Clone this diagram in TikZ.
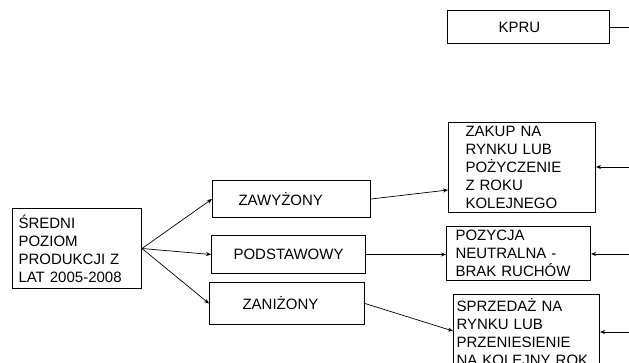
\documentclass[tikz,border=0pt]{standalone}
\usepackage{fontspec}
\setmainfont{Liberation Sans}
\usetikzlibrary{arrows.meta,calc}

\begin{document}
\begin{tikzpicture}[x=1pt,y=-1pt,font=\fontsize{15}{18}\selectfont,
  box/.style={draw,line width=1pt,inner sep=0pt,anchor=north west},
  multibox/.style={box,align=left,inner ysep=0pt},
  arr/.style={line width=0.7pt,-{Stealth[length=5pt,width=4pt]}}]
  \path[use as bounding box,clip] (0,0) rectangle (629,363);
  % top
  \node[multibox,text width=60,inner xsep=51pt,minimum height=33] (kpru) at (447,10) {KPRU};
  \coordinate (kpruout) at (640,27);
  % start and three levels
  \node[multibox,text width=117,inner xsep=6pt,minimum height=80] (sredni) at (12,208)
    {ŚREDNI\\POZIOM\\PRODUKCJI Z\\LAT 2005-2008};
  \node[multibox,text width=106,inner xsep=26pt,minimum height=37] (zaw) at (212,180) {ZAWYŻONY};
  \node[box,minimum width=154,minimum height=38] (podst) at (211,235) {PODSTAWOWY};
  \node[multibox,text width=89,inner xsep=33pt,minimum height=42] (zan) at (209,282) {ZANIŻONY};
  % outcomes
  \node[multibox,text width=113,inner xsep=17pt,minimum height=90] (zakup) at (448,122)
    {ZAKUP NA\\RYNKU LUB\\POŻYCZENIE\\Z ROKU\\KOLEJNEGO};
  \node[multibox,text width=126,inner xsep=9pt,minimum height=54] (pozycja) at (446,226)
    {POZYCJA\\NEUTRALNA -\\BRAK RUCHÓW};
  \node[multibox,text width=140,inner xsep=3pt,minimum height=76] (sprzedaz) at (453,294)
    {SPRZEDAŻ NA\\RYNKU LUB\\PRZENIESIENIE\\NA KOLEJNY ROK};
  % inputs from the right edge
  \coordinate (in1) at (640,167);
  \coordinate (in2) at (640,254);
  \coordinate (in3) at (640,332);

  \draw[arr] (sredni.east) -- (zaw.west);
  \draw[arr] (sredni.east) -- (podst.west);
  \draw[arr] (sredni.east) -- (zan.west);
  \draw[arr] (zaw.east) -- ([yshift=23pt]zakup.south west);
  \draw[arr] (podst.east) -- (podst.east -| pozycja.west);
  \draw[arr] (zan.east) -- ([yshift=-37pt]sprzedaz.north west);
  \draw[line width=0.7pt] (kpru.east) -- (kpruout);
  \draw[arr] (in1) -- (in1 -| zakup.east);
  \draw[arr] (in2) -- (in2 -| pozycja.east);
  \draw[arr] (in3) -- (in3 -| sprzedaz.east);
\end{tikzpicture}
\end{document}
